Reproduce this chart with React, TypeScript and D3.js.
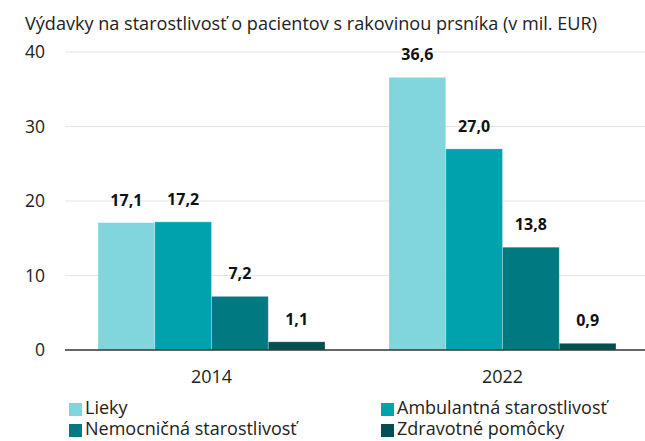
import React from 'react'
import * as d3 from 'd3'

const years = ['2014', '2022']
const seriesNames = ['Lieky', 'Ambulantná starostlivosť', 'Nemocničná starostlivosť', 'Zdravotné pomôcky']
const lieky = [17.1, 36.6]
const ambulantna = [17.2, 27.0]
const nemocnicna = [7.2, 13.8]
const pomocky = [1.1, 0.9]
const colors = ['#80d6dc', '#00a3ad', '#007a80', '#004f52']
const yTicks = [0, 10, 20, 30, 40]

const W = 645
const H = 441
const font = '"Open Sans", sans-serif'

export default function App() {
  const margin = { top: 52, right: 0, bottom: 91, left: 65 }
  const y = d3.scaleLinear().domain([0, 40]).range([H - margin.bottom, margin.top])
  const x0 = d3.scaleBand().domain(years).range([margin.left + 1, W + 3]).paddingInner(0.22).paddingOuter(0.11)
  const x1 = d3.scaleBand().domain(seriesNames).range([0, x0.bandwidth()])
  const values = [lieky, ambulantna, nemocnicna, pomocky]
  const fmt = (v: number) => v.toFixed(1).replace('.', ',')

  return (
    <svg width={W} height={H} style={{ position: 'absolute', left: 0, top: 0 }} fontFamily={font}>
      <rect width={W} height={H} fill="#fff" />
      <text x={25} y={30} fontSize={18} fill="#222" textLength={572} lengthAdjust="spacingAndGlyphs">Výdavky na starostlivosť o pacientov s rakovinou prsníka (v mil. EUR)</text>

      {yTicks.map(t => (
        <g key={t}>
          {t > 0 && <line x1={margin.left} x2={W} y1={y(t)} y2={y(t)} stroke="#e5e5e5" strokeWidth={1} />}
          <text x={45} y={y(t)} dy="0.35em" textAnchor="end" fontSize={17.5} fill="#222">{t}</text>
        </g>
      ))}

      {years.map((yr, i) => (
        <g key={yr} transform={`translate(${x0(yr)},0)`}>
          {seriesNames.map((s, j) => {
            const v = values[j][i]
            const bx = x1(s)!
            return (
              <g key={s}>
                <rect x={bx} y={y(v)} width={x1.bandwidth()} height={y(0) - y(v)} fill={colors[j]} stroke="#ffffff" strokeOpacity={0.35} strokeWidth={0.8} />
                <text x={bx + x1.bandwidth() / 2} y={y(v) - 17} textAnchor="middle" fontSize={16} fontWeight="bold" fill="#111">{fmt(v)}</text>
              </g>
            )
          })}
          <text x={x0.bandwidth() / 2} y={383} textAnchor="middle" fontSize={18} fill="#222">{yr}</text>
        </g>
      ))}

      <line x1={margin.left} x2={W} y1={y(0)} y2={y(0)} stroke="#333" strokeWidth={1.5} />

      {seriesNames.map((s, j) => {
        const lx = j % 2 === 0 ? 69 : 381
        const ly = j < 2 ? 403 : 424
        return (
          <g key={s} transform={`translate(${lx},${ly})`}>
            <rect width={13} height={13} fill={colors[j]} />
            <text x={16} y={11} fontSize={18} fill="#222">{s}</text>
          </g>
        )
      })}
    </svg>
  )
}
